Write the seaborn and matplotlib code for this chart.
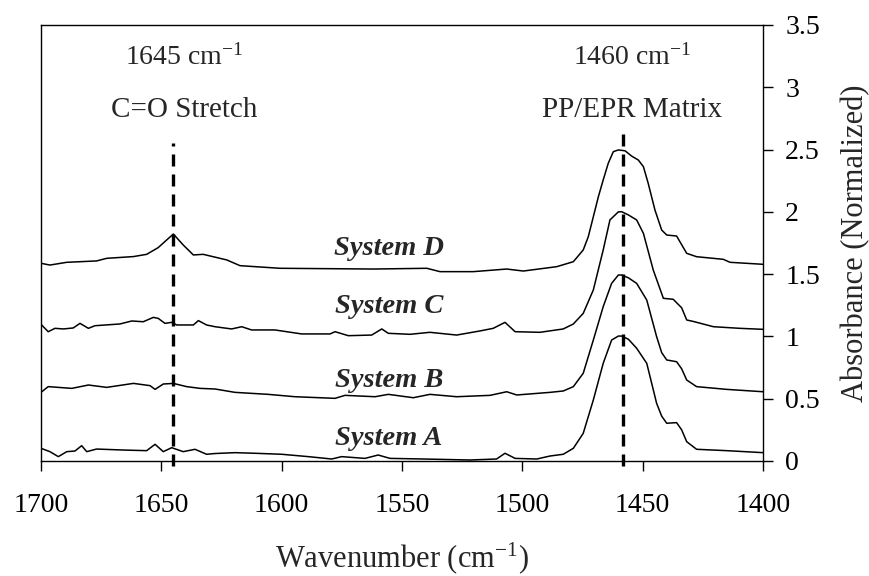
import matplotlib
matplotlib.use("Agg")
import matplotlib.pyplot as plt
import seaborn as sns
import pandas as pd

# ---- data ----
wn_D = [1700, 1696.3, 1689.3, 1676.9, 1672.7, 1661.6, 1656.1, 1651.3, 1647.8, 1645, 1640.9, 1636.7,
        1632.6, 1622.8, 1617.3, 1600.7, 1561.9, 1539.7, 1534.2, 1520.4, 1506.5, 1499.6, 1485.7,
        1478.8, 1474.7, 1472.6, 1470.5, 1468.4, 1466.4, 1464.3, 1462.2, 1460.1, 1457.3, 1454.6,
        1451.8, 1449.7, 1447.7, 1444.9, 1442.1, 1440.0, 1435.9, 1431.7, 1427.6, 1416.5, 1413.7, 1400]
abs_D = [1.587, 1.573, 1.595, 1.606, 1.627, 1.641, 1.659, 1.713, 1.774, 1.822, 1.734, 1.654,
         1.659, 1.614, 1.568, 1.547, 1.541, 1.547, 1.520, 1.520, 1.541, 1.525, 1.560,
         1.600, 1.694, 1.800, 1.961, 2.122, 2.256, 2.390, 2.483, 2.497, 2.490, 2.448,
         2.416, 2.363, 2.229, 2.015, 1.854, 1.814, 1.806, 1.667, 1.640, 1.619, 1.595, 1.579]

wn_C = [1700, 1697, 1694.2, 1690.7, 1686.6, 1683.8, 1680.3, 1677.6, 1667.2, 1662.3, 1657.5, 1653.3,
        1651.3, 1648.5, 1645.7, 1643.6, 1636.7, 1634.6, 1631.2, 1627.7, 1620.8, 1616.6, 1612.5,
        1602.8, 1591.7, 1579.9, 1577.8, 1572.3, 1562.6, 1558.4, 1555.7, 1546.7, 1538.4, 1527.3,
        1517.6, 1512.1, 1507.2, 1503.0, 1492.7, 1483.0, 1478.8, 1474.7, 1470.5, 1466.4, 1463.6,
        1460.1, 1458.7, 1455.9, 1452.5, 1449.7, 1445.6, 1441.4, 1437.3, 1433.8, 1431.7, 1428.9,
        1420.6, 1409.6, 1400]
abs_C = [1.097, 1.038, 1.065, 1.060, 1.068, 1.105, 1.065, 1.086, 1.100, 1.124, 1.118, 1.153,
         1.145, 1.105, 1.113, 1.092, 1.092, 1.127, 1.092, 1.078, 1.060, 1.078, 1.052,
         1.052, 1.020, 1.020, 1.038, 1.006, 1.011, 1.060, 1.025, 1.017, 1.033, 1.011,
         1.044, 1.065, 1.113, 1.038, 1.033, 1.060, 1.100, 1.185, 1.373, 1.694, 1.935,
         2.000, 2.001, 1.975, 1.935, 1.828, 1.533, 1.306, 1.298, 1.230, 1.132, 1.120,
         1.078, 1.065, 1.057]

wn_B = [1700, 1697, 1687.2, 1680.3, 1672.7, 1661.6, 1654.7, 1652.6, 1649.2, 1645, 1639.5, 1633.9,
        1627.7, 1619.4, 1605.6, 1594.5, 1577.8, 1573.7, 1561.2, 1555.7, 1545.3, 1538.4, 1527.3,
        1513.4, 1506.5, 1502.3, 1488.5, 1483.0, 1478.8, 1474.7, 1470.5, 1466.4, 1462.9, 1460.1,
        1458.7, 1455.9, 1452.5, 1448.3, 1444.2, 1442.1, 1440, 1435.9, 1433.8, 1431.7, 1427.6,
        1415.1, 1400]
abs_B = [0.551, 0.597, 0.583, 0.610, 0.591, 0.623, 0.605, 0.575, 0.618, 0.623, 0.597, 0.583,
         0.578, 0.551, 0.535, 0.516, 0.503, 0.527, 0.516, 0.535, 0.508, 0.535, 0.516,
         0.527, 0.556, 0.530, 0.551, 0.562, 0.597, 0.704, 0.971, 1.239, 1.426, 1.493,
         1.493, 1.470, 1.426, 1.292, 0.998, 0.870, 0.811, 0.797, 0.740, 0.650, 0.597,
         0.575, 0.556]

wn_A = [1700, 1696.3, 1692.8, 1689.3, 1685.9, 1683.1, 1681, 1676.9, 1665.8, 1656.1, 1652.6, 1649.2,
        1645.7, 1640.9, 1636, 1631.2, 1627.7, 1619.4, 1611.1, 1600, 1588.9, 1579.2, 1575.1,
        1565.4, 1559.9, 1555, 1541.1, 1521.7, 1510.7, 1507.2, 1503, 1494, 1488.5, 1483,
        1478.8, 1474.7, 1470.5, 1466.4, 1462.9, 1460.1, 1458.7, 1455.9, 1452.5, 1448.3, 1444.2,
        1442.1, 1440, 1435.9, 1433.8, 1431.7, 1427.6, 1415.1, 1400]
abs_A = [0.102, 0.075, 0.035, 0.075, 0.080, 0.123, 0.075, 0.096, 0.088, 0.083, 0.134, 0.075,
         0.107, 0.075, 0.094, 0.054, 0.060, 0.067, 0.062, 0.054, 0.035, 0.016, 0.035,
         0.021, 0.048, 0.021, 0.016, 0.008, 0.016, 0.062, 0.021, 0.016, 0.040, 0.054,
         0.102, 0.222, 0.490, 0.784, 0.971, 1.003, 1.003, 0.977, 0.905, 0.784, 0.463,
         0.360, 0.303, 0.308, 0.250, 0.155, 0.094, 0.083, 0.067]

systems = ["System A", "System B", "System C", "System D"]
label_y = [0.182, 0.65, 1.239, 1.707]
label_x = 1555.4

peak_wn = [1645, 1458]
peak_top = [2.55, 2.64]
peak_labels = ["1645 cm$^{-1}$", "1460 cm$^{-1}$"]
peak_names = ["C=O Stretch", "PP/EPR Matrix"]
peak_text_x = [1640.6, 1454.2]

x_ticks = [1700, 1650, 1600, 1550, 1500, 1450, 1400]
y_ticks = [0, 0.5, 1, 1.5, 2, 2.5, 3, 3.5]
y_tick_labels = ["0", "0.5", "1", "1.5", "2", "2.5", "3", "3.5"]

# ---- build table ----
frames = []
for name, wn, ab in zip(systems, [wn_A, wn_B, wn_C, wn_D], [abs_A, abs_B, abs_C, abs_D]):
    frames.append(pd.DataFrame({"wn": wn, "abs": ab, "system": name}))
df = pd.concat(frames, ignore_index=True)

sns.set_style("white")
plt.rcParams["font.family"] = ["Liberation Serif", "DejaVu Serif"]
plt.rcParams["mathtext.fontset"] = "custom"
plt.rcParams["mathtext.rm"] = "Liberation Serif"
plt.rcParams["mathtext.it"] = "Liberation Serif:italic"

fig = plt.figure(figsize=(8.7, 5.76), dpi=100)
ax = fig.add_axes([41 / 870, 1 - 461 / 576, 722 / 870, 436 / 576])

sns.lineplot(data=df, x="wn", y="abs", hue="system", units="system", estimator=None,
             palette=["black"] * 4, legend=False, linewidth=1.1, sort=False, ax=ax)

for xw, top in zip(peak_wn, peak_top):
    ax.plot([xw, xw], [-0.04, top], color="black", lw=2.4, ls=(0, (3.6, 2.4)), clip_on=False)

for xt, lab, nm in zip(peak_text_x, peak_labels, peak_names):
    ax.text(xt, 3.243, lab, ha="center", va="center", fontsize=20)
    ax.text(xt, 2.818, nm, ha="center", va="center", fontsize=21)

for name, yy in zip(systems, label_y):
    ax.text(label_x, yy, name, ha="center", va="center", fontsize=20.5,
            fontweight="bold", fontstyle="italic")

ax.set_xlim(1700, 1400)
ax.set_ylim(0, 3.5)
ax.set_xticks(x_ticks)
ax.set_xticklabels([str(t) for t in x_ticks])
ax.set_yticks(y_ticks)
ax.set_yticklabels(y_tick_labels)
ax.yaxis.tick_right()
ax.yaxis.set_label_position("right")
ax.tick_params(axis="both", direction="out", length=7, width=1, labelsize=20,
               colors="black")
ax.tick_params(axis="x", bottom=True, top=False, pad=16)
ax.tick_params(axis="y", left=False, right=True, pad=9)
for s in ax.spines.values():
    s.set_visible(True)
    s.set_color("black")
    s.set_linewidth(1)

ax.set_xlabel("Wavenumber (cm$^{-1}$)", fontsize=22, labelpad=16)
ax.set_ylabel("Absorbance (Normalized)", fontsize=22, labelpad=15)

fig.savefig("out.png", dpi=100, facecolor="white")
